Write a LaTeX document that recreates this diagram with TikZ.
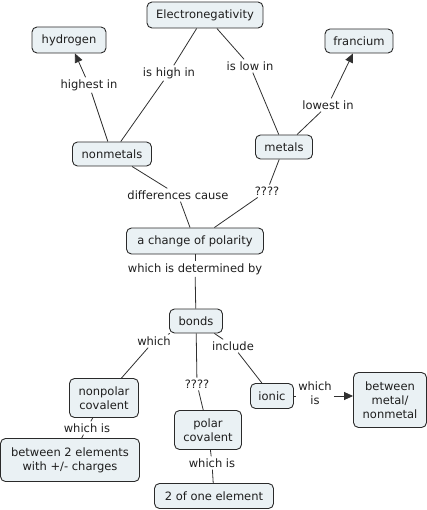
\documentclass[tikz,border=0pt]{standalone}
\usepackage{fontspec}
\setmainfont{DejaVu Sans}
\usetikzlibrary{arrows.meta}
\definecolor{boxfill}{HTML}{EAF1F4}
\definecolor{boxline}{HTML}{2A2A2A}
\definecolor{txt}{HTML}{1E1E1E}
\definecolor{conn}{HTML}{303030}
\tikzset{
  concept/.style={draw=boxline, fill=boxfill, rounded corners=5pt, line width=0.9pt,
    text=txt, align=center, inner sep=0pt, font=\fontsize{11.5}{14}\selectfont},
  linklabel/.style={text=txt, align=center, inner sep=2pt, font=\fontsize{11.5}{14}\selectfont},
  link/.style={draw=conn, line width=0.8pt},
  arr/.style={link, -{Triangle[length=9pt,width=8pt]}},
}
\begin{document}
\begin{tikzpicture}[x=1pt,y=-1pt]
\useasboundingbox (0,0) rectangle (427,510);
% concepts
\node[concept, minimum width=116, minimum height=26] (en) at (205,15) {Electronegativity};
\node[concept, minimum width=74, minimum height=26] (hyd) at (69,40) {hydrogen};
\node[concept, minimum width=68, minimum height=24] (fr) at (359,41) {francium};
\node[concept, minimum width=79, minimum height=24] (nm) at (112,154) {nonmetals};
\node[concept, minimum width=57, minimum height=24] (met) at (284,147) {metals};
\node[concept, minimum width=137, minimum height=26] (pol) at (195,241) {a change of polarity};
\node[concept, minimum width=53, minimum height=24] (bonds) at (196,321) {bonds};
\node[concept, minimum width=69, minimum height=39] (npc) at (104,398) {nonpolar\\covalent};
\node[concept, minimum width=43, minimum height=25] (ionic) at (272,396) {ionic};
\node[concept, minimum width=73, minimum height=55] (bmn) at (390,400) {between\\metal/\\nonmetal};
\node[concept, minimum width=67, minimum height=39] (pc) at (208,430) {polar\\covalent};
\node[concept, minimum width=139, minimum height=43] (b2) at (70,460) {between 2 elements\\with +/- charges};
\node[concept, minimum width=119, minimum height=25] (two) at (214,496) {2 of one element};
% link labels
\node[linklabel] (l1) at (169,73) {is high in};
\node[linklabel] (l2) at (250,66) {is low in};
\node[linklabel] (l3) at (89,85) {highest in};
\node[linklabel] (l4) at (328,105) {lowest in};
\node[linklabel] (l5) at (178,195) {differences cause};
\node[linklabel] (l6) at (267,191) {????};
\node[linklabel] (l7) at (195,269) {which is determined by};
\node[linklabel] (l8) at (154,341) {which};
\node[linklabel] (l9) at (233,346) {include};
\node[linklabel] (l10) at (197,384) {????};
\node[linklabel] (l11) at (87,428) {which is};
\node[linklabel] (l12) at (212,463) {which is};
\node[linklabel] (l13) at (315,393) {which\\is};
% connectors
\draw[link] (en) -- (l1);
\draw[link] (l1) -- (nm);
\draw[link] (en) -- (l2);
\draw[link] (l2) -- (met);
\draw[link] (nm) -- (l3);
\draw[arr] (l3) -- (hyd);
\draw[link] (met) -- (l4);
\draw[arr] (l4) -- (fr);
\draw[link] (nm) -- (l5);
\draw[link] (l5) -- (pol);
\draw[link] (met) -- (l6);
\draw[link] (l6) -- (pol);
\draw[link] (pol) -- (l7);
\draw[link] (l7) -- (bonds);
\draw[link] (bonds) -- (l8);
\draw[link] (l8) -- (npc);
\draw[link] (bonds) -- (l10);
\draw[link] (l10) -- (pc);
\draw[link] (bonds) -- (l9);
\draw[link] (l9) -- (ionic);
\draw[link] (ionic.east) -- (ionic.east -| l13.west);
\draw[arr] (l13.east |- ionic) -- (bmn.west |- ionic);
\draw[link] (npc) -- (l11);
\draw[link] (l11) -- (b2);
\draw[link] (pc) -- (l12);
\draw[link] (l12) -- (two);
\end{tikzpicture}
\end{document}
